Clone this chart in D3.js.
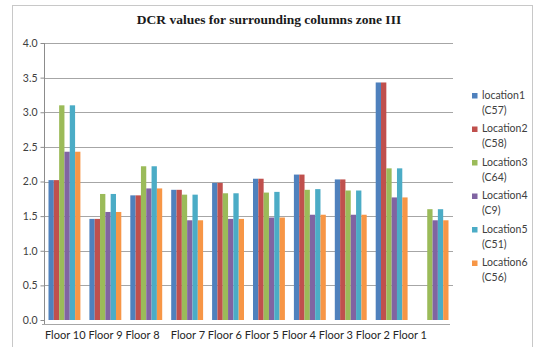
<!DOCTYPE html>
<html>
<head>
<meta charset="utf-8">
<script src="https://cdn.jsdelivr.net/npm/d3@7"></script>
<style>
  html, body { margin: 0; padding: 0; background: #fff; }
  svg { display: block; }
</style>
</head>
<body>
<svg id="chart" width="539" height="347"></svg>
<script>
// DCR per floor for the six surrounding columns in zone III
const categories = ["Floor 10", "Floor 9", "Floor 8", "Floor 7", "Floor 6",
                    "Floor 5", "Floor 4", "Floor 3", "Floor 2", "Floor 1"];
const seriesNames = ["location1", "Location2", "Location3", "Location4", "Location5", "Location6"];
const seriesIds   = ["(C57)", "(C58)", "(C64)", "(C9)", "(C51)", "(C56)"];
const location1 = [2.02, 1.46, 1.80, 1.88, 1.98, 2.04, 2.10, 2.03, 3.43, 0];
const location2 = [2.02, 1.46, 1.80, 1.88, 1.98, 2.04, 2.10, 2.03, 3.43, 0];
const location3 = [3.10, 1.82, 2.22, 1.81, 1.83, 1.84, 1.88, 1.87, 2.19, 1.60];
const location4 = [2.43, 1.56, 1.90, 1.44, 1.46, 1.48, 1.52, 1.52, 1.77, 1.44];
const location5 = [3.10, 1.82, 2.22, 1.81, 1.83, 1.85, 1.89, 1.87, 2.19, 1.60];
const location6 = [2.43, 1.56, 1.90, 1.44, 1.46, 1.48, 1.52, 1.52, 1.77, 1.44];
const yTicks = [0, 0.5, 1.0, 1.5, 2.0, 2.5, 3.0, 3.5, 4.0];
const title = "DCR values for surrounding columns zone III";

const seriesValues = [location1, location2, location3, location4, location5, location6];
const colors = ["#4F81BD", "#C0504D", "#9BBB59", "#8064A2", "#4BACC6", "#F79646"];

const svg = d3.select("#chart");

// outer chart frame
svg.append("rect")
  .attr("x", 12.5).attr("y", 5.5).attr("width", 520).attr("height", 360)
  .attr("fill", "#fff").attr("stroke", "#c8c8c8");

const plot = { left: 44, right: 453, top: 43, bottom: 320 };

const x = d3.scaleBand().domain(categories)
  .range([plot.left, plot.right]).paddingInner(0.22).paddingOuter(0.11);
const xs = d3.scaleBand().domain(d3.range(seriesNames.length))
  .range([0, x.bandwidth()]);
const y = d3.scaleLinear().domain([0, 4]).range([plot.bottom, plot.top]);

// horizontal gridlines
svg.append("g").selectAll("line")
  .data(yTicks.filter(t => t > 0))
  .join("line")
  .attr("x1", plot.left).attr("x2", plot.right)
  .attr("y1", d => Math.round(y(d)) + 0.5).attr("y2", d => Math.round(y(d)) + 0.5)
  .attr("stroke", "#a6a6a6").attr("stroke-width", 1);

// bars
const groups = svg.append("g").selectAll("g")
  .data(categories)
  .join("g")
  .attr("transform", d => `translate(${x(d)},0)`);

groups.selectAll("rect")
  .data((c, i) => seriesValues.map((vals, s) => ({ s, v: vals[i] })))
  .join("rect")
  .attr("x", d => xs(d.s))
  .attr("width", xs.bandwidth())
  .attr("y", d => y(d.v))
  .attr("height", d => y(0) - y(d.v))
  .attr("fill", d => colors[d.s]);

// value axis
const yAxis = d3.axisLeft(y).tickValues(yTicks).tickFormat(d3.format(".1f")).tickSize(4).tickPadding(3);
const ya = svg.append("g").attr("transform", `translate(${plot.left + 0.5},0)`).call(yAxis);
ya.select(".domain").attr("stroke", "#8c8c8c").attr("d", `M-0,${plot.top}V324`);
ya.selectAll(".tick line").attr("stroke", "#8c8c8c");
ya.selectAll(".tick text")
  .attr("font-family", "Lato, 'Open Sans', sans-serif").attr("font-size", 10.5)
  .attr("fill", "#404040");

// category axis line
svg.append("line")
  .attr("x1", plot.left - 2).attr("x2", 450)
  .attr("y1", 324.5).attr("y2", 324.5)
  .attr("stroke", "#a6a6a6");

// category labels, set as one line of text
const labelLine = categories.slice(0, 3).join(" ") + "    " + categories.slice(3).join(" ");
svg.append("text")
  .attr("xml:space", "preserve")
  .style("white-space", "pre")
  .attr("x", 45).attr("y", 339)
  .attr("textLength", 382).attr("lengthAdjust", "spacing")
  .attr("font-family", "Lato, 'Open Sans', sans-serif").attr("font-size", 11)
  .attr("fill", "#262626")
  .text(labelLine);

// title
svg.append("text")
  .attr("x", 269).attr("y", 24)
  .attr("text-anchor", "middle")
  .attr("font-family", "'Liberation Serif', 'Times New Roman', serif")
  .attr("font-weight", "bold").attr("font-size", 13.5)
  .attr("fill", "#1a1a1a")
  .text(title);

// legend
const legend = svg.append("g").selectAll("g")
  .data(seriesNames)
  .join("g")
  .attr("transform", (d, i) => `translate(472,${98 + i * 33.5})`);
legend.append("rect")
  .attr("x", 0).attr("y", -5).attr("width", 5.5).attr("height", 5.5)
  .attr("fill", (d, i) => colors[i]);
legend.append("text")
  .attr("x", 10).attr("y", 0.5)
  .attr("font-family", "Lato, 'Open Sans', sans-serif").attr("font-size", 10.5)
  .attr("fill", "#404040")
  .text(d => d);
legend.append("text")
  .attr("x", 10).attr("y", 15.5)
  .attr("font-family", "Lato, 'Open Sans', sans-serif").attr("font-size", 10.5)
  .attr("fill", "#404040")
  .text((d, i) => seriesIds[i]);
</script>
</body>
</html>
